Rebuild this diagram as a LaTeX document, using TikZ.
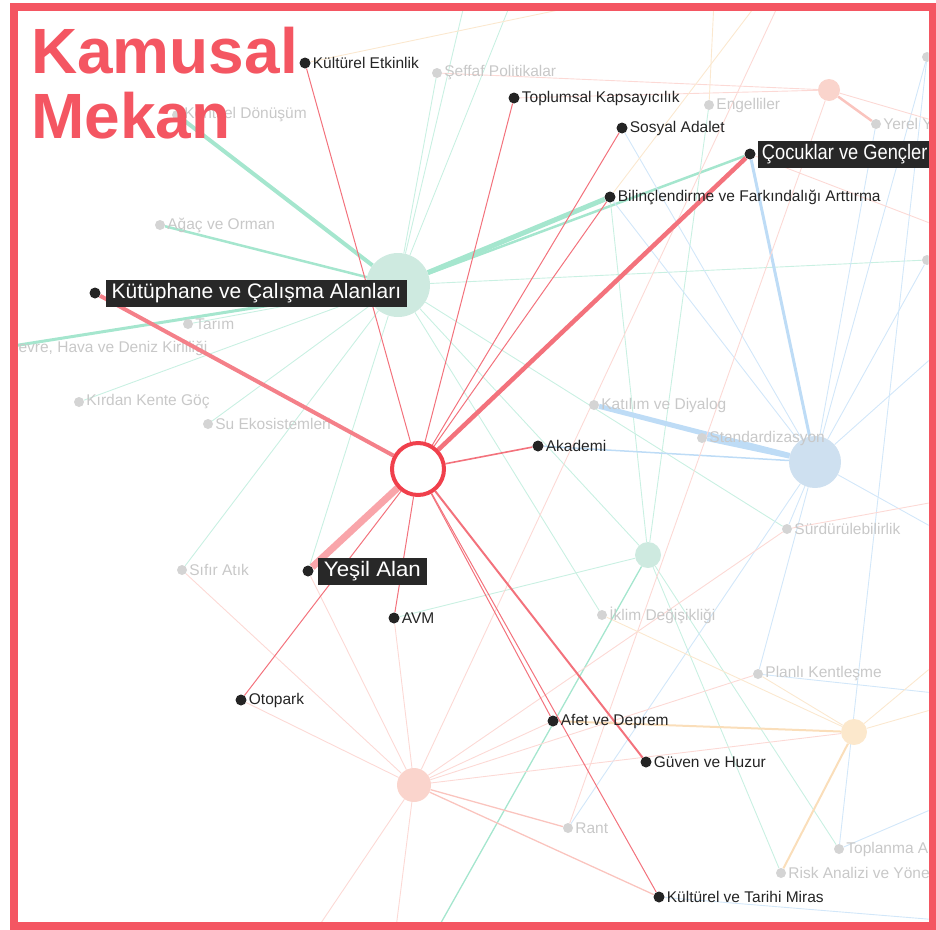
\documentclass[tikz,border=0pt]{standalone}
\usepackage{fontspec}
\setmainfont{Liberation Sans}
\usetikzlibrary{positioning}

\definecolor{kred}{RGB}{244,86,98}
\definecolor{ringred}{RGB}{240,64,76}
\definecolor{hotred}{RGB}{243,114,124}
\definecolor{yesilred}{RGB}{249,165,170}
\definecolor{darkdot}{RGB}{36,36,36}
\definecolor{boxfill}{RGB}{40,40,40}
\definecolor{colddotc}{RGB}{212,212,212}
\definecolor{coldtext}{RGB}{200,200,200}
\definecolor{mintfill}{RGB}{206,234,224}
\definecolor{mintline}{RGB}{165,230,206}
\definecolor{bluefill}{RGB}{206,224,240}
\definecolor{blueline}{RGB}{190,220,246}
\definecolor{salmfill}{RGB}{250,212,204}
\definecolor{salmline}{RGB}{250,196,190}
\definecolor{peachfill}{RGB}{252,232,204}
\definecolor{peachline}{RGB}{250,222,186}

\pgfdeclarelayer{faded}
\pgfdeclarelayer{hubs}
\pgfdeclarelayer{hot}
\pgfsetlayers{faded,hubs,hot,main}

\begin{document}
\begin{tikzpicture}[x=1pt, y=-1pt]

    % Styles
    \tikzset{
        hotdot/.style={circle, fill=darkdot, minimum size=11pt, inner sep=0pt},
        hotlabel/.style={text=darkdot, font=\fontsize{15.5}{18}\selectfont, inner sep=1pt},
        boxlabel/.style={fill=boxfill, text=white, font=\fontsize{21}{24}\selectfont, inner xsep=4pt, inner ysep=0pt, minimum height=27pt},
        colddot/.style={circle, fill=colddotc, minimum size=10pt, inner sep=0pt},
        coldlabel/.style={text=coldtext, font=\fontsize{15.5}{18}\selectfont, inner sep=1pt},
        hub/.style={circle, inner sep=0pt},
        ring/.style={circle, draw=ringred, line width=4pt, fill=white, minimum size=52pt, inner sep=0pt},
        headline/.style={text=kred, font=\fontsize{64}{66}\selectfont\bfseries, inner sep=0pt, anchor=base west},
        redlink/.style={hotred, line width=1pt},
        mintlink/.style={mintline!60, line width=0.9pt},
        bluelink/.style={blueline!70, line width=0.9pt},
        salmlink/.style={salmline!65, line width=0.9pt},
        peachlink/.style={peachline!70, line width=0.9pt}
    }

    \useasboundingbox (0,0) rectangle (936,929);

    % Ends outside the frame
    \coordinate (ntop1) at (470,-20);
    \coordinate (ntop2) at (520,-20);
    \coordinate (ntop3) at (790,-20);
    \coordinate (ntop4) at (640,-7);
    \coordinate (ntop5) at (715,-20);
    \coordinate (ntop6) at (775,-20);
    \coordinate (eright1) at (1000,297);
    \coordinate (eright2) at (1000,565);
    \coordinate (eright3) at (1000,925);
    \coordinate (eright4) at (1000,700);
    \coordinate (eright5) at (1000,780);
    \coordinate (eright6) at (1000,490);
    \coordinate (eright7) at (1000,140);
    \coordinate (eright8) at (1000,250);
    \coordinate (eright9) at (1000,610);
    \coordinate (eright10) at (1000,690);
    \coordinate (sbot1) at (420,960);
    \coordinate (sbot2) at (296,960);
    \coordinate (sbot3) at (392,960);

    % Hubs and faded topics
    \begin{pgfonlayer}{hubs}
    \begin{scope}
    \clip (17.5,10.5) rectangle (928.5,921.5);
    \node[hub, fill=mintfill, minimum size=64pt] (hmint) at (398,285) {};
    \node[hub, fill=bluefill, minimum size=52pt] (hblue) at (815,462) {};
    \node[hub, fill=mintfill, minimum size=26pt] (hmint2) at (648,555) {};
    \node[hub, fill=salmfill, minimum size=34pt] (hsalm) at (414,785) {};
    \node[hub, fill=salmfill, minimum size=22pt] (hsalm2) at (829,90) {};
    \node[hub, fill=peachfill, minimum size=26pt] (hpeach) at (854,732) {};

    \node[colddot] (donus) at (177,115) {};
    \node[coldlabel, right=1pt of donus] (donus-t) {Kentsel Dönüşüm};
    \node[colddot] (seffaf) at (437,73) {};
    \node[coldlabel, right=1pt of seffaf] (seffaf-t) {Şeffaf Politikalar};
    \node[colddot] (engel) at (709,105) {};
    \node[coldlabel, right=1pt of engel] (engel-t) {Engelliler};
    \node[colddot] (yerel) at (876,124) {};
    \node[coldlabel, right=1pt of yerel] (yerel-t) {Yerel Yönetimler};
    \node[colddot] (rtop) at (927,57) {};
    \node[colddot] (rmid) at (927,260) {};
    \node[colddot] (agac) at (160,225) {};
    \node[coldlabel, right=1pt of agac] (agac-t) {Ağaç ve Orman};
    \node[colddot] (tarim) at (188,324) {};
    \node[coldlabel, right=1pt of tarim] (tarim-t) {Tarım};
    \node[colddot] (cevre) at (0,348) {};
    \node[coldlabel, right=1pt of cevre] (cevre-t) {Çevre, Hava ve Deniz Kirliliği};
    \node[colddot] (kirdan) at (79,402) {};
    \node[coldlabel, right=1pt of kirdan] (kirdan-t) {Kırdan Kente Göç};
    \node[colddot] (suek) at (208,424) {};
    \node[coldlabel, right=1pt of suek] (suek-t) {Su Ekosistemleri};
    \node[colddot] (sifir) at (182,570) {};
    \node[coldlabel, right=1pt of sifir] (sifir-t) {Sıfır Atık};
    \node[colddot] (katil) at (594,405) {};
    \node[coldlabel, right=1pt of katil] (katil-t) {Katılım ve Diyalog};
    \node[colddot] (stand) at (702,438) {};
    \node[coldlabel, right=1pt of stand] (stand-t) {Standardizasyon};
    \node[colddot] (surdur) at (787,529) {};
    \node[coldlabel, right=1pt of surdur] (surdur-t) {Sürdürülebilirlik};
    \node[colddot] (iklim) at (602,615) {};
    \node[coldlabel, right=1pt of iklim] (iklim-t) {İklim Değişikliği};
    \node[colddot] (planli) at (758,674) {};
    \node[coldlabel, right=1pt of planli] (planli-t) {Planlı Kentleşme};
    \node[colddot] (rant) at (568,828) {};
    \node[coldlabel, right=1pt of rant] (rant-t) {Rant};
    \node[colddot] (toplan) at (839,849) {};
    \node[coldlabel, right=1pt of toplan] (toplan-t) {Toplanma Alanları};
    \node[colddot] (risk) at (781,873) {};
    \node[coldlabel, right=1pt of risk] (risk-t) {Risk Analizi ve Yönetimi};
    \end{scope}
    \end{pgfonlayer}

    % Kamusal Mekan and its topics
    \node[ring] (ctr) at (418,469) {};
    \node[hotdot] (kult) at (305,63) {};
    \node[hotlabel, right=1pt of kult] (kult-t) {Kültürel Etkinlik};
    \node[hotdot] (topl) at (514,98) {};
    \node[hotlabel, right=1pt of topl] (topl-t) {Toplumsal Kapsayıcılık};
    \node[hotdot] (sosy) at (622,128) {};
    \node[hotlabel, right=1pt of sosy] (sosy-t) {Sosyal Adalet};
    \node[hotdot] (cocu) at (750,154) {};
    \node[boxlabel, right=2pt of cocu] (cocu-t) {\scalebox{0.87}[1]{Çocuklar ve Gençler}};
    \node[hotdot] (bilinc) at (610,197) {};
    \node[hotlabel, right=1pt of bilinc] (bilinc-t) {Bilinçlendirme ve Farkındalığı Arttırma};
    \node[hotdot] (kutup) at (95,293) {};
    \node[boxlabel, right=5pt of kutup, minimum width=301pt] (kutup-t) {Kütüphane ve Çalışma Alanları};
    \node[hotdot] (akad) at (538,446) {};
    \node[hotlabel, right=1pt of akad] (akad-t) {Akademi};
    \node[hotdot] (yesil) at (308,571) {};
    \node[boxlabel, right=4pt of yesil, minimum width=109pt] (yesil-t) {\scalebox{1.06}[1]{Yeşil Alan}};
    \node[hotdot] (avm) at (394,618) {};
    \node[hotlabel, right=1pt of avm] (avm-t) {AVM};
    \node[hotdot] (otop) at (241,700) {};
    \node[hotlabel, right=1pt of otop] (otop-t) {Otopark};
    \node[hotdot] (afet) at (553,721) {};
    \node[hotlabel, right=1pt of afet] (afet-t) {Afet ve Deprem};
    \node[hotdot] (guven) at (646,762) {};
    \node[hotlabel, right=1pt of guven] (guven-t) {Güven ve Huzur};
    \node[hotdot] (miras) at (659,897) {};
    \node[hotlabel, right=1pt of miras] (miras-t) {Kültürel ve Tarihi Miras};

    % Faded links
    \begin{pgfonlayer}{faded}
    \begin{scope}
    \clip (17.5,10.5) rectangle (928.5,921.5);
    \draw[mintline, line width=4pt] (hmint) -- (donus);
    \draw[mintline, line width=5pt] (hmint) -- (bilinc);
    \draw[mintline, line width=2.5pt] (hmint) -- (cocu);
    \draw[mintline, line width=3pt] (hmint) -- (cevre);
    \draw[mintline, line width=2.5pt] (hmint) -- (agac);
    \foreach \n in {tarim,kirdan,suek,sifir,yesil,seffaf,ntop1,ntop2,rmid,surdur,iklim,hmint2}
        \draw[mintlink] (hmint) -- (\n);
    \foreach \n in {bilinc,engel,avm,risk,toplan}
        \draw[mintlink] (hmint2) -- (\n);
    \draw[mintline, line width=1.3pt] (hmint2) -- (sbot1);

    \draw[blueline, line width=5pt] (katil) -- (hblue);
    \draw[blueline, line width=4pt] (stand) -- (hblue);
    \draw[blueline, line width=3pt] (cocu) -- (hblue);
    \draw[blueline, line width=1.5pt] (akad) -- (hblue);
    \foreach \n in {sosy,bilinc,yerel,rtop,rmid,eright1,eright2,surdur,rant,planli}
        \draw[bluelink] (hblue) -- (\n);
    \draw[bluelink] (miras) -- (eright3);
    \draw[bluelink] (planli) -- (eright4);
    \draw[bluelink] (toplan) -- (eright5);
    \draw[bluelink] (rtop) -- (toplan);

    \foreach \n in {sifir,otop,yesil,avm,ntop3,afet,planli,surdur,sbot2,sbot3,hpeach}
        \draw[salmlink] (hsalm) -- (\n);
    \draw[salmline, line width=1.3pt] (hsalm) -- (rant);
    \draw[salmline, line width=1.3pt] (hsalm) -- (miras);
    \draw[salmlink] (surdur) -- (eright6);
    \draw[salmline, line width=2.5pt] (hsalm2) -- (yerel);
    \foreach \n in {seffaf,topl,eright7,rant}
        \draw[salmlink] (hsalm2) -- (\n);
    \draw[salmlink] (cocu) -- (eright8);

    \draw[peachline, line width=2pt] (hpeach) -- (afet);
    \draw[peachline, line width=2pt] (hpeach) -- (risk);
    \foreach \n in {iklim,planli,eright9,eright10}
        \draw[peachlink] (hpeach) -- (\n);
    \draw[peachlink] (kult) -- (ntop4);
    \draw[peachlink] (engel) -- (ntop5);
    \draw[peachlink] (bilinc) -- (ntop6);
    \end{scope}
    \end{pgfonlayer}

    % Red links
    \begin{pgfonlayer}{hot}
    \foreach \n in {kult,topl,sosy,bilinc,avm,otop,afet,miras}
        \draw[redlink] (ctr) -- (\n);
    \draw[hotred, line width=4.5pt] (ctr) -- (cocu);
    \draw[hotred!90, line width=4pt] (ctr) -- (kutup);
    \draw[yesilred, line width=7pt] (ctr) -- (yesil);
    \draw[hotred, line width=1.6pt] (ctr) -- (akad);
    \draw[hotred, line width=2pt] (ctr) -- (guven);
    \end{pgfonlayer}

    % Title and frame
    \node[headline] (ttl1) at (31,73) {Kamusal};
    \node[headline] (ttl2) at (31,138) {Mekan};
    \draw[kred, line width=8pt] (13.5,6.5) rectangle (932.5,925.5);

\end{tikzpicture}
\end{document}
